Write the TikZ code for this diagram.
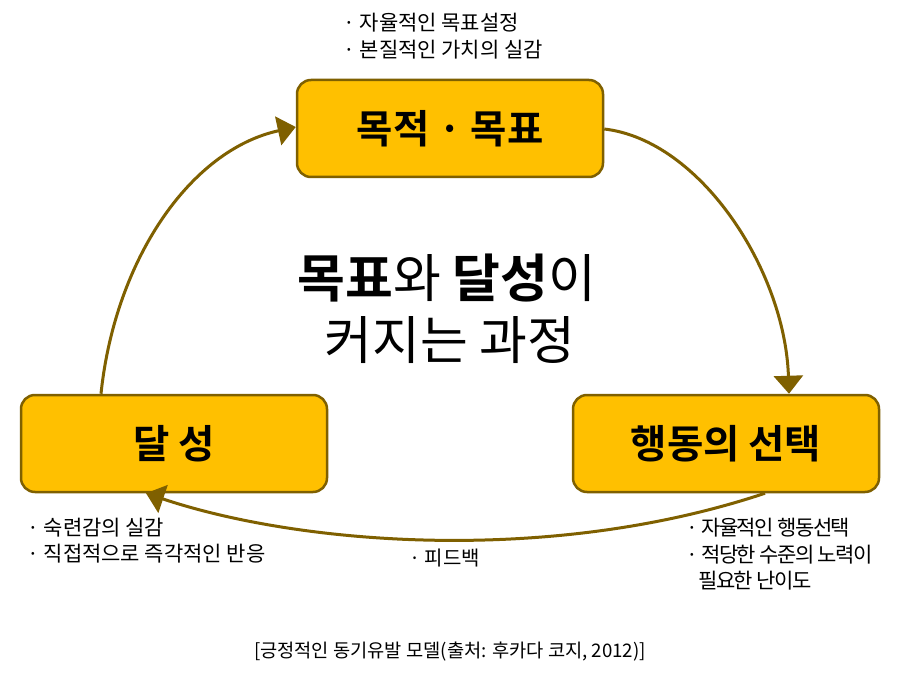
\documentclass[tikz,border=0pt]{standalone}
\usepackage{fontspec}
\setmainfont{Noto Sans CJK KR}[BoldFont={Noto Sans CJK KR Bold}]
\usetikzlibrary{arrows.meta}
\definecolor{boxfill}{HTML}{FFC000}
\definecolor{boxline}{HTML}{7F6000}
\tikzset{
  stagebox/.style={draw=boxline, fill=boxfill, line width=2.5pt, rounded corners=14pt,
    minimum width=306pt, minimum height=97pt, inner sep=0pt, font=\fontsize{39.5}{44}\selectfont\bfseries},
  flow/.style={draw=boxline, line width=3pt, -{Triangle[length=18pt,width=29pt]}},
  note/.style={anchor=base west, inner sep=0pt, font=\fontsize{21}{27}\selectfont},
  tightnote/.style={note, font=\fontsize{21}{27}\selectfont\addfontfeature{LetterSpace=-7}},
  bigtext/.style={anchor=base, inner sep=0pt, font=\fontsize{52}{60}\selectfont},
}
\begin{document}
\begin{tikzpicture}[x=1pt,y=-1pt]
\path[use as bounding box, fill=white] (0,0) rectangle (900,682);
\node[stagebox] (goal) at (450,128.5) {목적 · 목표};
\node[stagebox] (ach) at (174,443.5) {달 성};
\node[stagebox] (act) at (726,443.5) {행동의 선택};

\draw[flow] (ach.north -| 101,0) .. controls (115,260) and (190,150) .. (goal.west |- 0,127);
\draw[flow] (goal.east |- 0,129) .. controls (700,140) and (785,270) .. (act.north -| 789,0);
\draw[flow] (act.south -| 765,0) .. controls (550,565) and (300,545) .. (ach.south -| 146,0);

\node[note] (g1) at (343,31) {· 자율적인 목표설정};
\node[note] (g2) at (343,58) {· 본질적인 가치의 실감};
\node[note] (a1) at (27,535) {· 숙련감의 실감};
\node[note] (a2) at (27,561) {· 직접적으로 즉각적인 반응};
\node[tightnote] (c1) at (686,535) {· 자율적인 행동선택};
\node[tightnote] (c2) at (686,562) {· 적당한 수준의 노력이};
\node[tightnote] (c3) at (698,588) {필요한 난이도};
\node[note, font=\fontsize{20}{24}\selectfont] (fb) at (409,565) {· 피드백};

\node[bigtext] (t1) at (447,297) {\textbf{목표}와 \textbf{달성}이};
\node[bigtext] (t2) at (450,359) {커지는 과정};

\node[anchor=base, inner sep=0pt, font=\fontsize{18.7}{22}\selectfont] (cap) at (450,657) {[긍정적인 동기유발 모델(출처: 후카다 코지, 2012)]};
\end{tikzpicture}
\end{document}
